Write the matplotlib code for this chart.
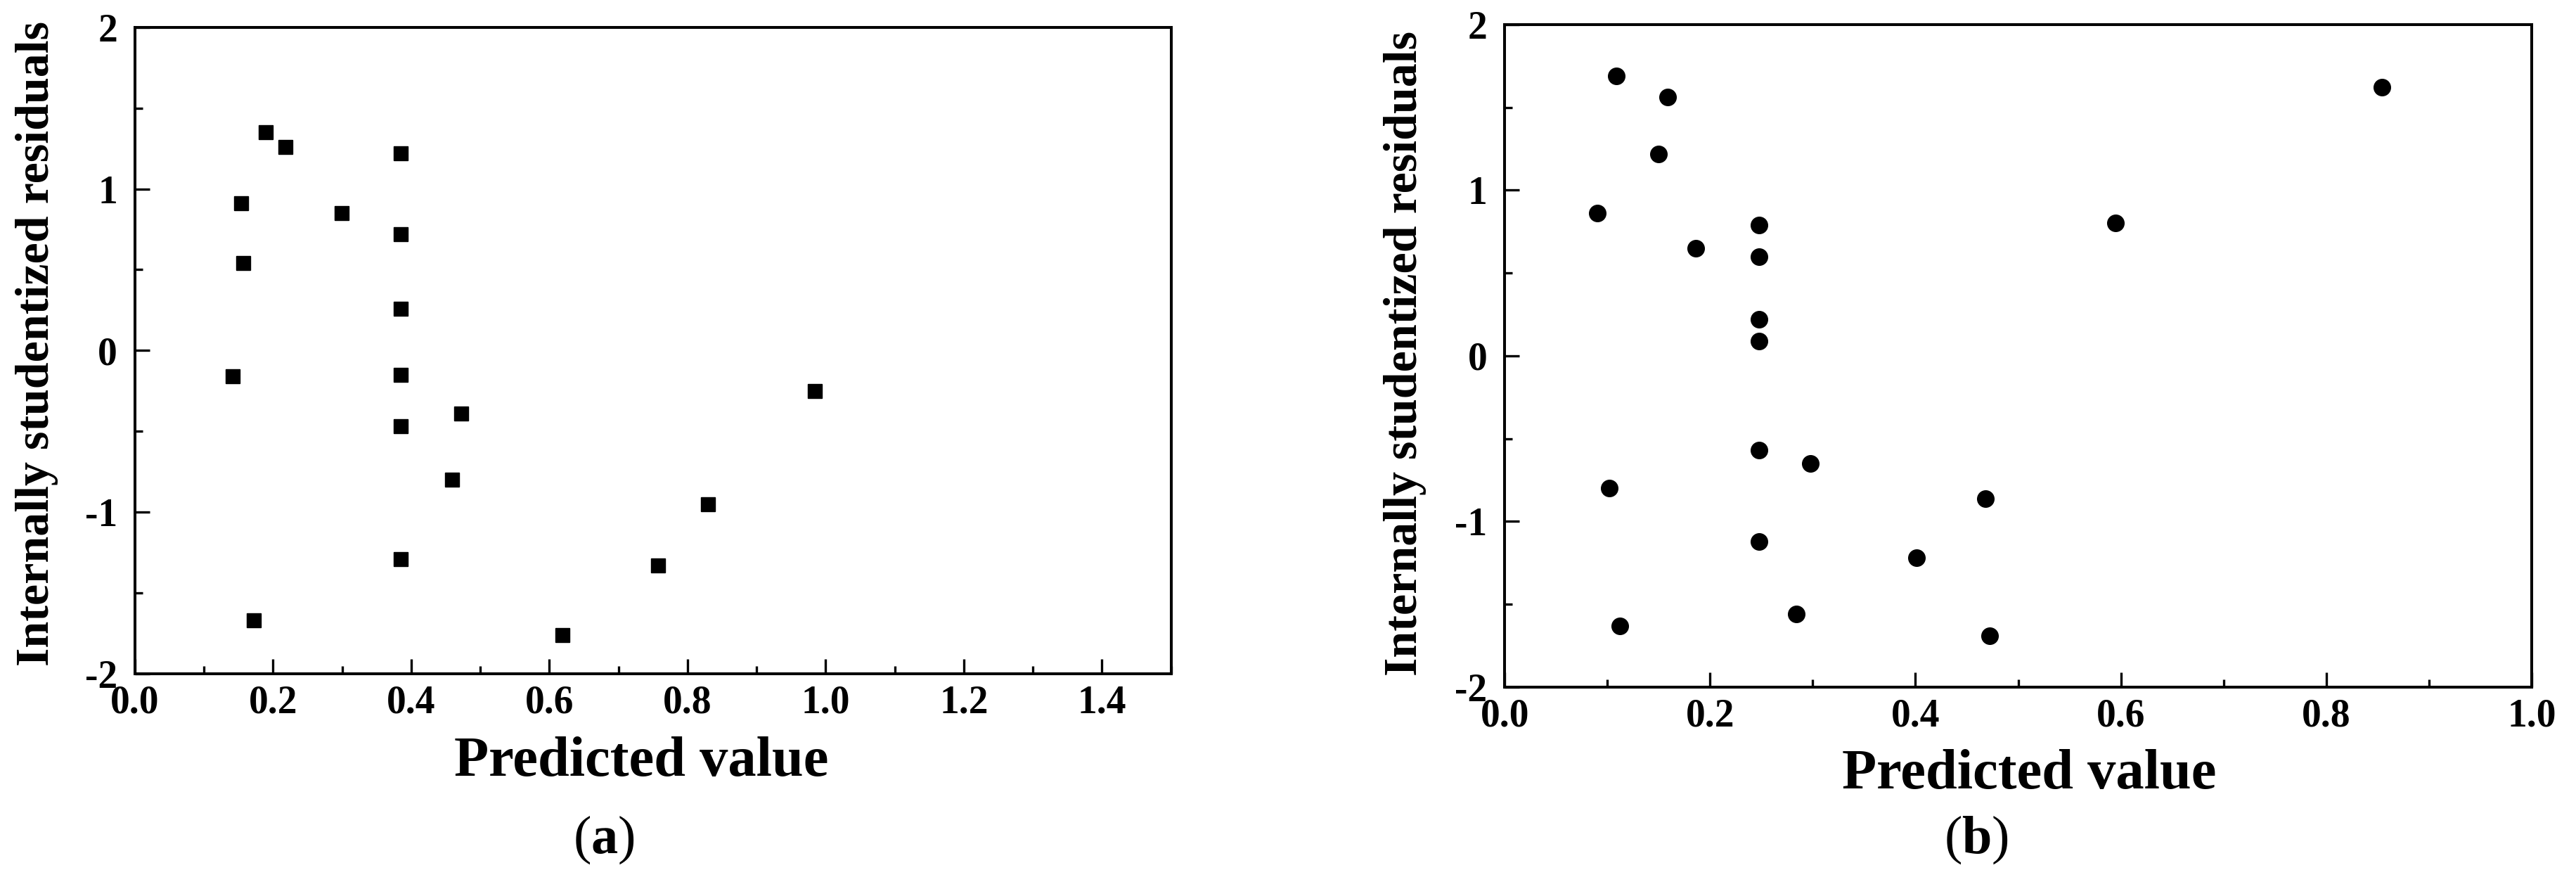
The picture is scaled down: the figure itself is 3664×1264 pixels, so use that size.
import matplotlib
matplotlib.use("Agg")
import matplotlib.pyplot as plt
from matplotlib.ticker import MultipleLocator

plt.rcParams['font.family'] = ['Liberation Serif', 'DejaVu Serif']
plt.rcParams['mathtext.fontset'] = 'custom'
plt.rcParams['mathtext.rm'] = 'Liberation Serif'
plt.rcParams['mathtext.bf'] = 'Liberation Serif:bold'

# panel (a) - squares
pred_a = [0.189, 0.218, 0.385, 0.154, 0.299, 0.385, 0.157, 0.385, 0.141, 0.385,
          0.472, 0.385, 0.459, 0.984, 0.830, 0.385, 0.757, 0.172, 0.619]
resid_a = [1.35, 1.26, 1.22, 0.91, 0.85, 0.72, 0.54, 0.26, -0.16, -0.15,
           -0.39, -0.47, -0.80, -0.25, -0.95, -1.29, -1.33, -1.67, -1.76]

# panel (b) - circles
pred_b = [0.109, 0.159, 0.150, 0.090, 0.248, 0.186, 0.248, 0.248, 0.248, 0.595,
          0.854, 0.248, 0.298, 0.102, 0.468, 0.248, 0.401, 0.284, 0.112, 0.472]
resid_b = [1.69, 1.56, 1.22, 0.86, 0.79, 0.65, 0.60, 0.22, 0.09, 0.80,
           1.62, -0.57, -0.65, -0.80, -0.86, -1.12, -1.22, -1.56, -1.63, -1.69]

yticks = [-2, -1, 0, 1, 2]
ytick_labels = ['-2', '-1', '0', '1', '2']
xticks_a = [0.0, 0.2, 0.4, 0.6, 0.8, 1.0, 1.2, 1.4]
xticks_b = [0.0, 0.2, 0.4, 0.6, 0.8, 1.0]

fig = plt.figure(figsize=(36.64, 12.64), dpi=100)
ax1 = fig.add_axes([0.0524, 0.2422, 0.4022, 0.7271])
ax2 = fig.add_axes([0.5841, 0.2270, 0.3987, 0.7455])

def style(ax, xticks, xlim, xlab_pos, ylab_pos):
    ax.set_xlim(xlim)
    ax.set_ylim(-2, 2)
    ax.set_xticks(xticks)
    ax.set_xticklabels(['%.1f' % v for v in xticks])
    ax.set_yticks(yticks)
    ax.set_yticklabels(ytick_labels)
    ax.xaxis.set_minor_locator(MultipleLocator(0.1))
    ax.yaxis.set_minor_locator(MultipleLocator(0.5))
    ax.tick_params(which='both', direction='in', top=False, right=False, width=2.4)
    ax.tick_params(which='major', length=15, labelsize=40)
    ax.tick_params(which='minor', length=8)
    ax.tick_params(axis='x', pad=11)
    ax.tick_params(axis='y', pad=18)
    for lab in ax.get_xticklabels() + ax.get_yticklabels():
        lab.set_fontweight('bold')
    for s in ax.spines.values():
        s.set_linewidth(2.9)
    ax.set_xlabel('Predicted value', fontsize=58, fontweight='bold')
    ax.xaxis.set_label_coords(*xlab_pos)
    ax.xaxis.label.set_va('center')
    ax.set_ylabel('Internally studentized residuals', fontsize=49, fontweight='bold')
    ax.yaxis.set_label_coords(*ylab_pos)
    ax.yaxis.label.set_va('center')

ax1.plot(pred_a, resid_a, linestyle='none', marker='s', ms=15, color='black')
style(ax1, xticks_a, (0, 1.5), (0.489, -0.137), (-0.0944, 0.511))

ax2.plot(pred_b, resid_b, linestyle='none', marker='o', ms=17, color='black')
style(ax2, xticks_b, (0, 1.0), (0.511, -0.132), (-0.0969, 0.504))

fig.text(0.2344, 0.0554, r'($\mathbf{a}$)', fontsize=55, ha='center', va='center')
fig.text(0.7672, 0.0554, r'($\mathbf{b}$)', fontsize=55, ha='center', va='center')

fig.savefig('out.png', dpi=100)
